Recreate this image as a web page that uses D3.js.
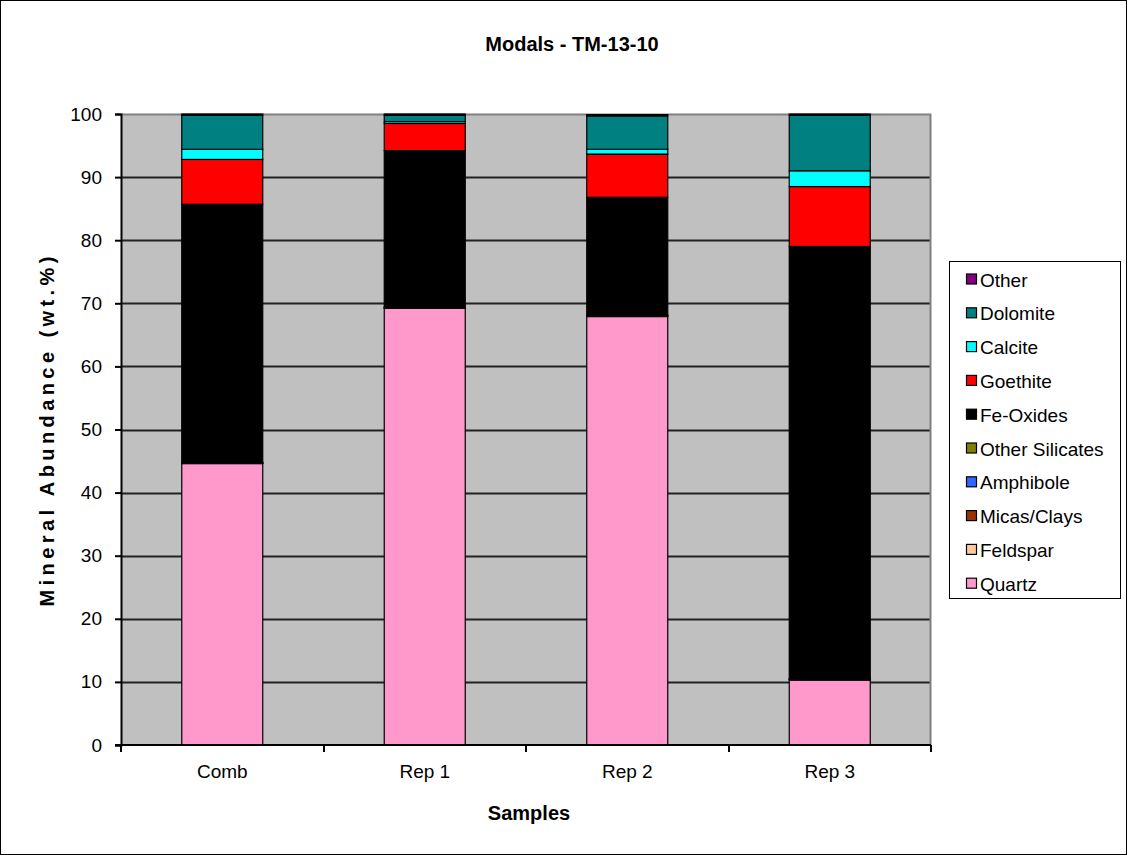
<!DOCTYPE html>
<html>
<head>
<meta charset="utf-8">
<script src="https://cdn.jsdelivr.net/npm/d3@7"></script>
<style>
  html, body { margin: 0; padding: 0; background: #fff; }
  svg { display: block; font-family: "Liberation Sans", Arial, sans-serif; }
</style>
</head>
<body>
<svg id="chart" width="1127" height="855"></svg>
<script>
// Sample names along the x axis
const samples = ["Comb", "Rep 1", "Rep 2", "Rep 3"];

// Minerals, stacked from the bottom up
const minerals = ["Quartz", "Feldspar", "Micas/Clays", "Amphibole", "Other Silicates",
                  "Fe-Oxides", "Goethite", "Calcite", "Dolomite", "Other"];
const mineralColors = ["#FF99CC", "#FFCC99", "#993300", "#3366FF", "#808000",
                       "#000000", "#FF0000", "#00FFFF", "#008080", "#800080"];

// Abundance (wt.%) per mineral, one value per sample
const quartz         = [44.6, 69.2, 67.9, 10.3];
const feldspar       = [0.05, 0.05, 0.05, 0.05];
const micasClays     = [0.1, 0.1, 0.1, 0.1];
const amphibole      = [0.0, 0.0, 0.0, 0.0];
const otherSilicates = [0.05, 0.05, 0.05, 0.05];
const feOxides       = [40.9, 24.8, 18.7, 68.5];
const goethite       = [7.1, 4.3, 6.85, 9.5];
const calcite        = [1.6, 0.3, 0.75, 2.5];
const dolomite       = [5.4, 1.0, 5.3, 8.8];
const other          = [0.2, 0.2, 0.2, 0.2];

// Y axis ticks
const yTicks = [0, 10, 20, 30, 40, 50, 60, 70, 80, 90, 100];

const seriesValues = [quartz, feldspar, micasClays, amphibole, otherSilicates,
                      feOxides, goethite, calcite, dolomite, other];

const table = samples.map((s, i) => {
  const row = { sample: s };
  minerals.forEach((m, k) => { row[m] = seriesValues[k][i]; });
  return row;
});

const FONT = "Liberation Sans, Arial, sans-serif";
const svg = d3.select("#chart");
const W = 1127, H = 855;
const plot = { left: 121, right: 931, top: 114, bottom: 745 };

// outer frame
svg.append("rect").attr("x", 0.5).attr("y", 0.5).attr("width", W - 1).attr("height", H - 1)
  .attr("fill", "#fff").attr("stroke", "#000").attr("stroke-width", 1);

const x = d3.scaleBand().domain(samples).range([plot.left, plot.right]).paddingInner(0.6).paddingOuter(0.3);
const xBand = d3.scaleBand().domain(samples).range([plot.left, plot.right]);
const y = d3.scaleLinear().domain([0, 100]).range([plot.bottom, plot.top]);

// plot background
svg.append("rect").attr("x", plot.left).attr("y", plot.top)
  .attr("width", plot.right - plot.left).attr("height", plot.bottom - plot.top)
  .attr("fill", "#C0C0C0");

// gridlines
svg.append("g").selectAll("line").data(yTicks.filter(t => t > 0 && t < 100)).join("line")
  .attr("x1", plot.left).attr("x2", plot.right)
  .attr("y1", d => Math.round(y(d)) + 0.5).attr("y2", d => Math.round(y(d)) + 0.5)
  .attr("stroke", "#222").attr("stroke-width", 2);

// top and right plot border
svg.append("path")
  .attr("d", `M${plot.left},${plot.top + 0.5}H${plot.right - 0.5}V${plot.bottom}`)
  .attr("fill", "none").attr("stroke", "#808080").attr("stroke-width", 2);

// stacked bars
const stack = d3.stack().keys(minerals)(table);
const color = d3.scaleOrdinal().domain(minerals).range(mineralColors);

svg.append("g").selectAll("g").data(stack).join("g")
  .attr("fill", d => color(d.key))
  .selectAll("rect").data(d => d).join("rect")
  .attr("x", d => x(d.data.sample))
  .attr("width", x.bandwidth())
  .attr("y", d => y(d[1]))
  .attr("height", d => Math.max(0, y(d[0]) - y(d[1])))
  .attr("stroke", "#000").attr("stroke-width", 1.2);

// y axis
const yAxis = svg.append("g").attr("transform", `translate(${plot.left},0)`)
  .call(d3.axisLeft(y).tickValues(yTicks).tickSize(6).tickPadding(13).tickFormat(d3.format("d")));
yAxis.select(".domain").attr("stroke", "#000").attr("stroke-width", 2);
yAxis.selectAll(".tick line").attr("stroke", "#000").attr("stroke-width", 2);
yAxis.selectAll(".tick text").attr("font-size", 19).attr("fill", "#000").attr("font-family", FONT);

// x axis
const xAxis = svg.append("g").attr("transform", `translate(0,${plot.bottom})`)
  .call(d3.axisBottom(x).tickSize(0).tickPadding(20));
xAxis.select(".domain").remove();
xAxis.selectAll(".tick text").attr("font-size", 19).attr("fill", "#000").attr("font-family", FONT);
svg.append("line").attr("x1", plot.left - 6).attr("x2", plot.right)
  .attr("y1", plot.bottom).attr("y2", plot.bottom).attr("stroke", "#000").attr("stroke-width", 2);
// category boundary ticks
const bounds = samples.map(s => xBand(s)).concat([plot.right]);
svg.append("g").selectAll("line").data(bounds).join("line")
  .attr("x1", d => Math.round(d)).attr("x2", d => Math.round(d))
  .attr("y1", plot.bottom).attr("y2", plot.bottom + 7)
  .attr("stroke", "#000").attr("stroke-width", 2);

// titles
svg.append("text").attr("x", 572).attr("y", 51).attr("text-anchor", "middle")
  .attr("font-size", 20).attr("font-weight", "bold")
  .text("Modals - TM-13-10");
svg.append("text").attr("x", 529).attr("y", 820).attr("text-anchor", "middle")
  .attr("font-size", 20).attr("font-weight", "bold")
  .text("Samples");
svg.append("text").attr("transform", `translate(54,${(plot.top + plot.bottom) / 2 + 2}) rotate(-90)`)
  .attr("text-anchor", "middle").attr("font-size", 20).attr("font-weight", "bold")
  .attr("textLength", 350).attr("lengthAdjust", "spacing")
  .text("Mineral Abundance (wt.%)");

// legend
const legend = svg.append("g");
legend.append("rect").attr("x", 949.5).attr("y", 261.5).attr("width", 171).attr("height", 337)
  .attr("fill", "#fff").attr("stroke", "#000").attr("stroke-width", 1);
const legendOrder = minerals.slice().reverse();
const li = legend.selectAll("g.item").data(legendOrder).join("g").attr("class", "item")
  .attr("transform", (d, i) => `translate(966,${279.5 + i * 33.8})`);
li.append("rect").attr("x", 0.5).attr("y", -5.5).attr("width", 10).attr("height", 10)
  .attr("fill", d => color(d)).attr("stroke", "#000").attr("stroke-width", 1.2);
li.append("text").attr("x", 14).attr("y", 7).attr("font-size", 19).attr("fill", "#000")
  .attr("font-family", FONT).text(d => d);
</script>
</body>
</html>
